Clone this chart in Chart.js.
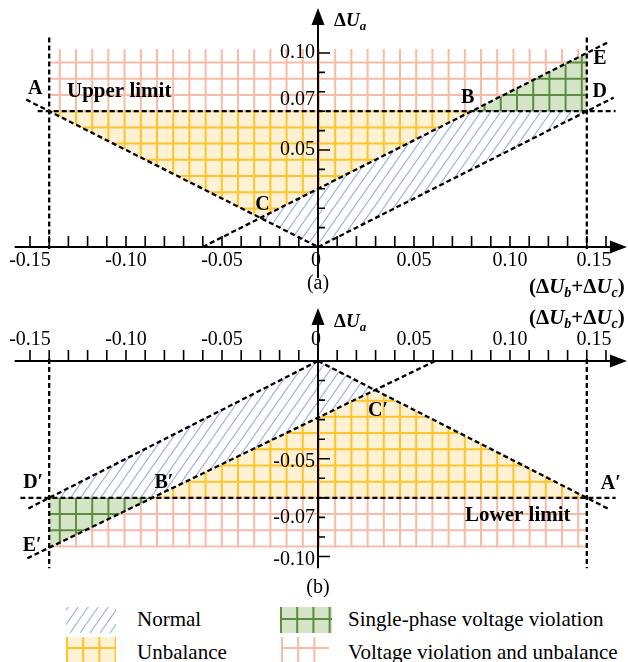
<!DOCTYPE html>
<html>
<head>
<meta charset="utf-8">
<script src="https://cdn.jsdelivr.net/npm/chart.js@4.4.0/dist/chart.umd.min.js"></script>
<style>
  html, body { margin: 0; padding: 0; background: #fff; }
  body { width: 628px; height: 662px; position: relative; overflow: hidden; font-family: 'Liberation Serif', 'Times New Roman', serif; }
  #chartA { position: absolute; left: 0; top: 0; }
  #chartB { position: absolute; left: 0; top: 300px; }
  .swatch { position: absolute; }
  .key { position: absolute; font-size: 21px; line-height: 26px; color: #000; white-space: nowrap; }
</style>
</head>
<body>
<canvas id="chartA" width="628" height="300"></canvas>
<canvas id="chartB" width="628" height="300"></canvas>

<canvas class="swatch" id="swNormal" width="50" height="26" style="left:66px;top:607px"></canvas>
<canvas class="swatch" id="swUnbal" width="50" height="25" style="left:66px;top:637px"></canvas>
<canvas class="swatch" id="swSingle" width="52" height="26" style="left:280px;top:607px"></canvas>
<canvas class="swatch" id="swViol" width="48" height="25" style="left:281px;top:637px"></canvas>
<div class="key" style="left:137px;top:606px">Normal</div>
<div class="key" style="left:137px;top:639px">Unbalance</div>
<div class="key" style="left:348px;top:606px">Single-phase voltage violation</div>
<div class="key" style="left:348px;top:639px">Voltage violation and unbalance</div>

<script>
// tick labels (shared x axis, separate y axes)
const xTicks = [-0.15, -0.10, -0.05, 0, 0.05, 0.10, 0.15];
const xTickLabels = ['-0.15', '-0.10', '-0.05', '0', '0.05', '0.10', '0.15'];
const yTicksA = [0.10, 0.07, 0.05];
const yTickLabelsA = ['0.10', '0.07', '0.05'];
const yTicksB = [-0.05, -0.07, -0.10];
const yTickLabelsB = ['-0.05', '-0.07', '-0.10'];

// panel (a): key points A..E
const pointNamesA = ['A', 'B', 'C', 'D', 'E'];
const pointXA = [-0.14, 0.08, -0.03, 0.14, 0.14];
const pointYA = [0.07, 0.07, 0.015, 0.07, 0.10];
const violTopA = 0.102;

// panel (a): dashed boundary lines
const limitA = [[-0.146, 0.07], [0.155, 0.07]];
const edgeLeftA = [[-0.14, 0.108], [-0.14, -0.001]];
const edgeRightA = [[0.14, 0.108], [0.14, -0.001]];
const lineOA = [[-0.152, 0.076], [0, 0]];
const lineOD = [[0, 0], [0.154, 0.077]];
const lineCE = [[-0.06, 0], [0.152, 0.106]];

// panel (b): key points A'..E'
const pointNamesB = ['A\u2032', 'B\u2032', 'C\u2032', 'D\u2032', 'E\u2032'];
const pointXB = [0.14, -0.086, 0.0297, -0.14, -0.14];
const pointYB = [-0.07, -0.07, -0.0149, -0.07, -0.0955];
const violBottomB = -0.0955;

// panel (b): dashed boundary lines
const limitB = [[-0.155, -0.07], [0.155, -0.07]];
const edgeLeftB = [[-0.14, 0.001], [-0.14, -0.106]];
const edgeRightB = [[0.14, 0.001], [0.14, -0.106]];
const lineOA2 = [[0, 0], [0.152, -0.076]];
const lineOD2 = [[0, 0], [-0.152, -0.076]];
const lineCE2 = [[0.061, 0], [-0.152, -0.1012]];

const O = [0, 0];
const ptsA = pointXA.map((x, i) => [x, pointYA[i]]);
const ptsB = pointXB.map((x, i) => [x, pointYB[i]]);

const FONT = '"Liberation Serif", "Times New Roman", serif';
const GRID_STEP = 16.2;
const styles = {
  normal: { hatch: '#9fb4e0' },
  unbalance: { bg: '#fff2d4', line: '#ffc42b' },
  single: { bg: '#d3e5c6', line: '#5f8c40' },
  violation: { bg: null, line: '#f7bba8' }
};

function tracePoly(ctx, sx, sy, pts) {
  ctx.beginPath();
  pts.forEach(([x, y], i) => {
    const px = sx.getPixelForValue(x), py = sy.getPixelForValue(y);
    if (i === 0) ctx.moveTo(px, py); else ctx.lineTo(px, py);
  });
  ctx.closePath();
}

function paintGrid(ctx, box, style, ax, ay) {
  if (style.bg) {
    ctx.fillStyle = style.bg;
    ctx.fillRect(box.left, box.top, box.right - box.left, box.bottom - box.top);
  }
  ctx.strokeStyle = style.line;
  ctx.lineWidth = 2;
  ctx.setLineDash([]);
  ctx.beginPath();
  let x = ax - Math.ceil((ax - box.left) / GRID_STEP) * GRID_STEP;
  for (; x <= box.right + 1; x += GRID_STEP) { ctx.moveTo(x, box.top); ctx.lineTo(x, box.bottom); }
  let y = ay - Math.ceil((ay - box.top) / GRID_STEP) * GRID_STEP;
  for (; y <= box.bottom + 1; y += GRID_STEP) { ctx.moveTo(box.left, y); ctx.lineTo(box.right, y); }
  ctx.stroke();
}

function paintHatch(ctx, box, color, ax) {
  const step = 10;
  const h = box.bottom - box.top;
  const run = h / Math.tan(55 * Math.PI / 180);
  ctx.strokeStyle = color;
  ctx.lineWidth = 1.2;
  ctx.setLineDash([]);
  ctx.beginPath();
  let x = ax - Math.ceil((ax - box.left + run) / step) * step;
  for (; x <= box.right; x += step) { ctx.moveTo(x, box.bottom); ctx.lineTo(x + run, box.top); }
  ctx.stroke();
}

function paintStyle(ctx, box, style, ax, ay) {
  if (style.hatch) paintHatch(ctx, box, style.hatch, ax);
  else paintGrid(ctx, box, style, ax, ay);
}

function zonesPlugin(zones) {
  return {
    id: 'zones',
    beforeDatasetsDraw(chart) {
      const { ctx, chartArea } = chart;
      const sx = chart.scales.x, sy = chart.scales.y;
      zones.forEach(z => {
        ctx.save();
        tracePoly(ctx, sx, sy, z.pts);
        ctx.clip();
        const ax = z.anchorX !== undefined ? sx.getPixelForValue(z.anchorX) + z.shift : sx.getPixelForValue(0) + 1;
        paintStyle(ctx, chartArea, z.style, ax, sy.getPixelForValue(z.anchorY));
        ctx.restore();
      });
    }
  };
}

function drawRich(ctx, parts, x, y) {
  let cx = x;
  parts.forEach(([t, font, dy]) => {
    ctx.font = font;
    ctx.fillText(t, cx, y + (dy || 0));
    cx += ctx.measureText(t).width;
  });
}

function arrow(ctx, tx, ty, dir) {
  ctx.beginPath();
  if (dir === 'up') { ctx.moveTo(tx, ty); ctx.lineTo(tx - 6.5, ty + 17); ctx.lineTo(tx + 6.5, ty + 17); }
  else { ctx.moveTo(tx, ty); ctx.lineTo(tx - 17, ty - 6.5); ctx.lineTo(tx - 17, ty + 6.5); }
  ctx.closePath();
  ctx.fill();
}

function axesPlugin(cfg) {
  return {
    id: 'axes',
    afterDatasetsDraw(chart) {
      const { ctx } = chart;
      const sx = chart.scales.x, sy = chart.scales.y;
      const ox = sx.getPixelForValue(0), oy = sy.getPixelForValue(0);
      ctx.save();
      ctx.strokeStyle = '#000';
      ctx.fillStyle = '#000';
      ctx.setLineDash([]);
      ctx.lineWidth = 2;
      // axis lines
      const xl = sx.getPixelForValue(cfg.xFrom), xr = sx.getPixelForValue(cfg.xTo);
      const yb = sy.getPixelForValue(cfg.yFrom), yt = sy.getPixelForValue(cfg.yTo);
      ctx.beginPath();
      ctx.moveTo(xl, oy); ctx.lineTo(xr - 10, oy);
      ctx.moveTo(ox, yb); ctx.lineTo(ox, yt + 10);
      ctx.stroke();
      arrow(ctx, xr, oy, 'right');
      arrow(ctx, ox, yt, 'up');
      // tick marks
      ctx.lineWidth = 1.6;
      ctx.beginPath();
      for (let i = -15; i <= 15; i++) {
        if (i === 0) continue;
        const px = sx.getPixelForValue(i / 100);
        ctx.moveTo(px, oy); ctx.lineTo(px, oy - 11);
      }
      cfg.yMinor.forEach((v, i) => {
        const py = sy.getPixelForValue(v);
        const len = Math.round(Math.abs(v) * 100) % 5 === 0 ? 12 : 7;
        ctx.moveTo(ox, py); ctx.lineTo(ox + len, py);
      });
      ctx.stroke();
      // tick labels
      ctx.font = '20px ' + FONT;
      ctx.textAlign = 'center';
      ctx.textBaseline = 'middle';
      xTicks.forEach((v, i) => {
        let px = sx.getPixelForValue(v);
        if (v === 0) px -= 2;
        if (v === 0.15) px -= 12;
        ctx.fillText(xTickLabels[i], px, oy + cfg.xLabelDy);
      });
      ctx.textAlign = 'right';
      cfg.yTicks.forEach((v, i) => {
        ctx.fillText(cfg.yTickLabels[i], ox - 3, sy.getPixelForValue(v) + cfg.yLabelDy[i]);
      });
      // point names
      ctx.textAlign = 'center';
      ctx.font = 'bold 20px ' + FONT;
      cfg.names.forEach((n, i) => {
        const [x, y] = cfg.pts[i];
        ctx.fillText(n, sx.getPixelForValue(x) + cfg.nameOffsets[i][0], sy.getPixelForValue(y) + cfg.nameOffsets[i][1]);
      });
      // limit caption
      ctx.textAlign = 'left';
      ctx.font = 'bold 21px ' + FONT;
      ctx.fillText(cfg.limitText, cfg.limitPos[0], cfg.limitPos[1]);
      // axis titles
      ctx.textBaseline = 'alphabetic';
      drawRich(ctx, [
        ['\u0394', 'bold 19px ' + FONT],
        ['U', 'italic bold 19px ' + FONT],
        ['a', 'italic bold 13px ' + FONT, 4]
      ], 334, cfg.uaBase);
      drawRich(ctx, [
        ['(', 'bold 21px ' + FONT],
        ['\u0394', 'bold 21px ' + FONT],
        ['U', 'italic bold 21px ' + FONT],
        ['b', 'italic bold 14px ' + FONT, 4],
        ['+', 'bold 21px ' + FONT],
        ['\u0394', 'bold 21px ' + FONT],
        ['U', 'italic bold 21px ' + FONT],
        ['c', 'italic bold 14px ' + FONT, 4],
        [')', 'bold 21px ' + FONT]
      ], 529, cfg.sumBase);
      ctx.textAlign = 'center';
      ctx.font = '20px ' + FONT;
      ctx.fillText(cfg.panel, ox, cfg.panelBase);
      ctx.restore();
    }
  };
}

function dashed(pts) {
  return {
    data: pts.map(([x, y]) => ({ x, y })),
    showLine: true,
    borderColor: '#000',
    borderWidth: 2.3,
    borderDash: [5, 3],
    pointRadius: 0,
    fill: false
  };
}

function makeChart(id, sets, zones, axisCfg, yMin, yMax) {
  return new Chart(document.getElementById(id), {
    type: 'scatter',
    data: { datasets: sets.map(dashed) },
    options: {
      responsive: false,
      animation: false,
      events: [],
      layout: { padding: 0 },
      plugins: { legend: { display: false }, tooltip: { enabled: false } },
      scales: {
        x: { type: 'linear', display: false, min: -318 / 1920, max: 310 / 1920 },
        y: { type: 'linear', display: false, min: yMin, max: yMax }
      }
    },
    plugins: [zonesPlugin(zones), axesPlugin(axisCfg)]
  });
}

const [A, B, C, D, E] = ptsA;
makeChart('chartA',
  [limitA, edgeLeftA, edgeRightA, lineOA, lineOD, lineCE],
  [
    { pts: [A, B, E, [0.14, violTopA], [-0.14, violTopA]], style: styles.violation, anchorY: 0.07 },
    { pts: [A, B, C], style: styles.unbalance, anchorY: 0.07 },
    { pts: [B, E, D], style: styles.single, anchorY: 0.07, anchorX: 0.14, shift: -5 },
    { pts: [C, B, D, O], style: styles.normal, anchorY: 0 }
  ],
  {
    xFrom: -0.158, xTo: 0.1609, yFrom: -0.016, yTo: 0.1232,
    yMinor: [0.01, 0.02, 0.03, 0.04, 0.05, 0.06, 0.07, 0.08, 0.09, 0.10],
    yTicks: yTicksA, yTickLabels: yTickLabelsA, yLabelDy: [0, -11, 0],
    xLabelDy: 14,
    names: pointNamesA, pts: ptsA,
    nameOffsets: [[-14, -22], [-4, -13], [2, -13], [13, -19], [13, 6]],
    limitText: 'Upper limit', limitPos: [67, 92],
    uaBase: 26, sumBase: 293, panel: '(a)', panelBase: 289
  },
  -53 / 1940, 247 / 1940);

const [A2, B2, C2, D2, E2] = ptsB;
makeChart('chartB',
  [limitB, edgeLeftB, edgeRightB, lineOA2, lineOD2, lineCE2],
  [
    { pts: [B2, [0.14, -0.07], [0.14, violBottomB], E2], style: styles.violation, anchorY: -0.07 },
    { pts: [B2, A2, C2], style: styles.unbalance, anchorY: -0.07 },
    { pts: [D2, B2, E2], style: styles.single, anchorY: -0.07 },
    { pts: [O, C2, B2, D2], style: styles.normal, anchorY: 0 }
  ],
  {
    xFrom: -0.158, xTo: 0.1609, yFrom: -0.106, yTo: 0.0271,
    yMinor: [-0.01, -0.02, -0.03, -0.04, -0.05, -0.06, -0.07, -0.08, -0.09, -0.10],
    yTicks: yTicksB, yTickLabelsB: null, yTickLabels: yTickLabelsB, yLabelDy: [3, 20, 3],
    xLabelDy: -21,
    names: pointNamesB, pts: ptsB,
    nameOffsets: [[24, -14], [11, -15], [3, 21], [-16, -15], [-17, -2]],
    limitText: 'Lower limit', limitPos: [465, 216],
    uaBase: 27, sumBase: 24, panel: '(b)', panelBase: 293
  },
  -239 / 1955, 61 / 1955);

// legend swatches
function swatch(id, style, ax, ay) {
  const cv = document.getElementById(id);
  const ctx = cv.getContext('2d');
  const box = { left: 0, top: 0, right: cv.width, bottom: cv.height };
  paintStyle(ctx, box, style, ax, ay);
}
swatch('swNormal', styles.normal, 4, 0);
swatch('swUnbal', styles.unbalance, 1, 11);
swatch('swSingle', styles.single, 1, 12);
swatch('swViol', styles.violation, 1, 11);
</script>
</body>
</html>
